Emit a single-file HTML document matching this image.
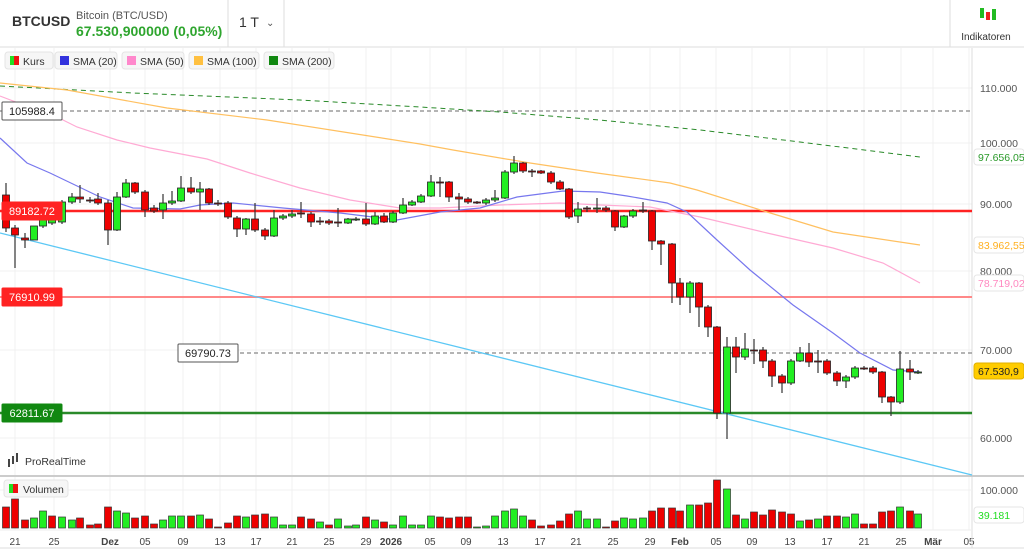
<!DOCTYPE html>
<html><head><meta charset="utf-8">
<style>
body{margin:0;width:1024px;height:554px;overflow:hidden;background:#fff;font-family:"Liberation Sans",sans-serif;}
svg{position:absolute;left:0;top:0}
</style></head><body>
<svg id="s" width="1024" height="554" xmlns="http://www.w3.org/2000/svg" font-family="Liberation Sans, sans-serif">
<rect x="0" y="0" width="1024" height="554" fill="#fff"/>
<line x1="0" y1="47" x2="1024" y2="47" stroke="#ddd"/>
<line x1="228" y1="0" x2="228" y2="47" stroke="#ddd"/>
<line x1="284" y1="0" x2="284" y2="47" stroke="#ddd"/>
<line x1="950" y1="0" x2="950" y2="47" stroke="#ddd"/>
<text x="12" y="26" font-size="14" font-weight="bold" fill="#333">BTCUSD</text>
<text x="76" y="19" font-size="11" fill="#555">Bitcoin (BTC/USD)</text>
<text x="76" y="36" font-size="14" font-weight="bold" fill="#2ea52e">67.530,900000 (0,05%)</text>
<text x="239" y="27" font-size="14" fill="#333">1 T</text>
<text x="266" y="26" font-size="10" fill="#555">⌄</text>
<rect x="980" y="8" width="4" height="10" fill="#2b2"/><rect x="986" y="12" width="4" height="8" fill="#e22"/><rect x="992" y="9" width="4" height="11" fill="#2b2"/>
<text x="986" y="40" font-size="10" fill="#333" text-anchor="middle">Indikatoren</text>
<g id="g"></g>
</svg>
<script>
const NS="http://www.w3.org/2000/svg";const g=document.getElementById('g');
function el(t,a,txt){const e=document.createElementNS(NS,t);for(const k in a)e.setAttribute(k,a[k]);if(txt!==undefined)e.textContent=txt;g.appendChild(e);return e;}
const xs=[15,54,110,145,183,220,256,292,329,366,391,430,466,503,540,576,613,650,680,716,752,790,827,864,901,933,969];
const xl=["21","25","Dez","05","09","13","17","21","25","29","2026","05","09","13","17","21","25","29","Feb","05","09","13","17","21","25","Mär","05"];
xs.forEach((x,i)=>{el('line',{x1:x,y1:48,x2:x,y2:530,stroke:'#f0f0f0'});const b=(xl[i]=="Dez"||xl[i]=="2026"||xl[i]=="Feb"||xl[i]=="Mär");el('text',{x:x,y:545,'font-size':10,fill:'#444','text-anchor':'middle','font-weight':b?'bold':'normal'},xl[i]);});
const ty=[[88,"110.000"],[143,"100.000"],[204,"90.000"],[271,"80.000"],[350,"70.000"],[438,"60.000"]];
ty.forEach(t=>{el('line',{x1:0,y1:t[0],x2:972,y2:t[0],stroke:'#f0f0f0'});el('text',{x:980,y:t[0]+4,'font-size':10.5,fill:'#555'},t[1]);});
el('line',{x1:972,y1:48,x2:972,y2:548,stroke:'#ddd'});
el('line',{x1:0,y1:476,x2:1024,y2:476,stroke:'#ccc','stroke-width':2});
el('line',{x1:0,y1:548,x2:1024,y2:548,stroke:'#ddd'});
el('line',{x1:0,y1:530,x2:972,y2:530,stroke:'#eee'});
el('line',{x1:0,y1:490,x2:972,y2:490,stroke:'#f0f0f0'});
el('text',{x:980,y:494,'font-size':10.5,fill:'#555'},"100.000");
const lg=[[5,48,"Kurs",null],[55,62,"SMA (20)","#3333dd"],[122,62,"SMA (50)","#ff88cc"],[189,70,"SMA (100)","#ffc040"],[264,70,"SMA (200)","#118811"]];
lg.forEach(l=>{el('rect',{x:l[0],y:52,width:l[1],height:17,rx:3,fill:'#f6f6f6',stroke:'#e4e4e4'});
if(l[3])el('rect',{x:l[0]+5,y:56,width:9,height:9,fill:l[3]});else{el('rect',{x:l[0]+5,y:56,width:5,height:9,fill:'#2d2'});el('rect',{x:l[0]+9,y:56,width:5,height:9,fill:'#e11'});}
el('text',{x:l[0]+18,y:65,'font-size':10.5,fill:'#333'},l[2]);});
el('line',{x1:0,y1:111,x2:972,y2:111,stroke:'#888','stroke-dasharray':'4,3','stroke-width':1.3});
el('line',{x1:240,y1:353,x2:972,y2:353,stroke:'#888','stroke-dasharray':'4,3','stroke-width':1.3});
el('line',{x1:0,y1:211,x2:972,y2:211,stroke:'#f22','stroke-width':2.5});
el('line',{x1:0,y1:297,x2:972,y2:297,stroke:'#f88','stroke-width':2});
el('line',{x1:0,y1:413,x2:972,y2:413,stroke:'#2a8a2a','stroke-width':2.5});
el('line',{x1:0,y1:233,x2:972,y2:475,stroke:'#5cc8f5','stroke-width':1.3});
function pl(p,c,w,d){el('polyline',{points:p,fill:'none',stroke:c,'stroke-width':w||1,'stroke-dasharray':d||'none'});}
pl("0,86 133,93 300,100 420,107 500,112 600,120 700,130 800,142 920,157","#2a8a2a",1,"5,4");
pl("0,83 67,90 167,108 267,120 350,133 420,144 453,150 530,163 597,173 670,183 697,190 767,212 833,232 920,245","#ffc060",1.2);
pl("0,96 63,120 77,127 117,140 150,148 207,159 250,173 300,188 350,200 400,208 440,208 500,205 560,203 600,205 650,207 700,217 767,233 833,248 883,263 920,283","#ffaad4",1.2);
pl("0,138 27,163 50,173 100,197 133,208 180,209 200,205 233,203 283,208 340,213 397,220 440,212 480,208 517,197 563,191 600,192 627,196 667,203 687,212 717,240 750,270 793,305 833,333 860,353 893,370 920,372","#7777ee",1.2);
const C=[[6,195,228,183,232,'r'],[15,228,235,225,268,'r'],[25,238,240,233,248,'r'],[34,226,240,226,240,'g'],[43,215,226,213,228,'g'],[52,212,223,210,225,'g'],[62,202,222,200,224,'g'],[72,197,202,193,204,'g'],[80,197,199,185,203,'r'],[90,200,201,197,203,'r'],[98,199,203,193,205,'r'],[108,203,230,200,245,'r'],[117,197,230,192,231,'g'],[126,183,197,179,198,'g'],[135,183,192,182,194,'r'],[145,192,210,190,217,'r'],[154,208,211,205,213,'r'],[163,203,210,194,219,'g'],[172,201,203,191,205,'g'],[181,188,201,176,202,'g'],[191,188,192,177,194,'r'],[200,189,192,182,210,'g'],[209,189,203,188,205,'r'],[218,203,204,200,206,'r'],[228,203,217,201,219,'r'],[237,218,229,216,237,'r'],[246,219,229,218,235,'g'],[255,219,230,203,232,'r'],[265,230,236,228,240,'r'],[274,218,236,210,237,'g'],[283,216,218,214,220,'g'],[292,214,216,210,218,'g'],[301,213,214,202,218,'r'],[311,214,222,212,227,'r'],[320,221,222,217,225,'r'],[329,221,223,219,225,'r'],
[338,222,223,208,227,'r'],[348,219,223,218,224,'g'],[356,219,220,217,221,'g'],[366,219,224,203,226,'r'],[375,216,224,212,225,'g'],[384,216,222,213,223,'r'],[393,213,222,211,223,'g'],[403,205,213,198,214,'g'],[412,202,205,200,206,'g'],[421,196,202,194,203,'g'],[431,182,196,175,197,'g'],[440,182,183,177,197,'r'],[449,182,197,181,202,'r'],[459,197,199,193,210,'r'],[468,199,202,197,204,'r'],[477,202,203,201,204,'r'],[486,200,203,198,205,'g'],[495,198,200,190,202,'g'],[505,172,198,170,199,'g'],[514,163,172,156,174,'g'],[523,163,171,162,173,'r'],[532,171,172,169,177,'r'],[541,171,173,170,174,'r'],[551,173,182,171,184,'r'],[560,182,189,180,190,'r'],[569,189,217,188,219,'r'],[578,209,216,202,223,'g'],[587,208,209,206,212,'r'],[597,208,209,198,213,'g'],[606,208,210,206,212,'r'],[615,211,227,210,231,'r'],[624,216,227,215,228,'g'],[633,211,216,209,218,'g'],[643,210,211,202,213,'r'],[652,211,241,210,250,'r'],[661,241,244,240,265,'r'],
[672,244,283,243,303,'r'],[680,283,297,278,305,'r'],[690,283,297,281,313,'g'],[699,283,307,282,327,'r'],[708,307,327,305,337,'r'],[717,327,413,326,419,'r'],[727,347,413,337,439,'g'],[736,347,357,337,373,'r'],[745,349,357,333,360,'g'],[754,350,351,339,364,'r'],[763,350,361,347,368,'r'],[772,361,376,359,387,'r'],[782,376,383,374,393,'r'],[791,361,383,359,385,'g'],[800,353,361,347,362,'g'],[809,353,362,343,367,'r'],[818,361,362,350,373,'r'],[827,361,373,359,375,'r'],[837,373,381,371,386,'r'],[846,377,381,375,388,'g'],[855,368,377,366,379,'g'],[864,368,369,366,370,'r'],[873,368,372,366,374,'r'],[882,372,397,371,403,'r'],[891,397,402,396,416,'r'],[900,369,402,351,404,'g'],[910,369,372,360,380,'r'],[918,372,373,370,374,'g']];
const V="21r29r8r10g17g12r11g8g10r3r4r21r17g15g10r12r4r8g12g12g12r13g9r1r5r12r11g13r14r11g3g3g11r9r6g3r9g2g3g11r8g6r3g12g3g3g12g11r10r11r11r1g2g12g17g19g12g8r2r3r7r14r17g9g9g1r7r10g9g10g17r20r20r17r23g23r25r48r39g13r9g16r13r18r16r14r7g8r9g12r12r11g14g4r4r16r17r21g17r14g";
const vm=[...V.matchAll(/(\d+)([rg])/g)];
C.forEach((c,i)=>{const col=c[5]=='g'?'#22ee22':'#ee0000';
el('line',{x1:c[0],y1:c[3],x2:c[0],y2:c[4],stroke:'#333','stroke-width':1.2});
el('rect',{x:c[0]-3.5,y:c[1],width:7,height:Math.max(1,c[2]-c[1]),fill:col,stroke:'#222','stroke-width':0.8});
if(vm[i]){const h=+vm[i][1];const vc=vm[i][2]=='g'?'#22ee22':'#ee0000';el('rect',{x:c[0]-3.5,y:528-h,width:7,height:h,fill:vc,stroke:'#333','stroke-width':0.7});}
});
function lab(x,y,w,t,bg,fg,bd){el('rect',{x:x,y:y,width:w,height:18,fill:bg,stroke:bd,rx:1});el('text',{x:x+w/2,y:y+13,'font-size':11,fill:fg,'text-anchor':'middle'},t);}
lab(2,102,60,"105988.4","#fff","#222","#555");
lab(2,202,60,"89182.72","#f22","#fff","#f22");
lab(2,288,60,"76910.99","#f22","#fff","#f22");
lab(2,404,60,"62811.67","#118811","#fff","#118811");
lab(178,344,60,"69790.73","#fff","#222","#555");
function rt(y,t,fg,bg){el('rect',{x:974,y:y-8,width:50,height:16,rx:3,fill:bg,stroke:bg=='#fff'?'#e6e6e6':'#e0b000'});el('text',{x:978,y:y+4,'font-size':10.5,fill:fg},t);}
rt(157,"97.656,05","#2a9a2a","#fff");rt(245,"83.962,55","#ffb020","#fff");rt(283,"78.719,02","#ff88c0","#fff");rt(371,"67.530,9","#222","#ffcc00");rt(515,"39.181","#22dd22","#fff");
el('rect',{x:8,y:459,width:2,height:8,fill:'#444'});el('rect',{x:12,y:456,width:2,height:8,fill:'#444'});el('rect',{x:16,y:453,width:2,height:9,fill:'#444'});
el('text',{x:25,y:465,'font-size':10.5,fill:'#333'},"ProRealTime");
el('rect',{x:4,y:480,width:64,height:17,rx:3,fill:'#f6f6f6',stroke:'#e4e4e4'});
el('rect',{x:9,y:484,width:5,height:9,fill:'#2d2'});el('rect',{x:13,y:484,width:5,height:9,fill:'#e11'});
el('text',{x:23,y:493,'font-size':10.5,fill:'#333'},"Volumen");
</script>
</body></html>
